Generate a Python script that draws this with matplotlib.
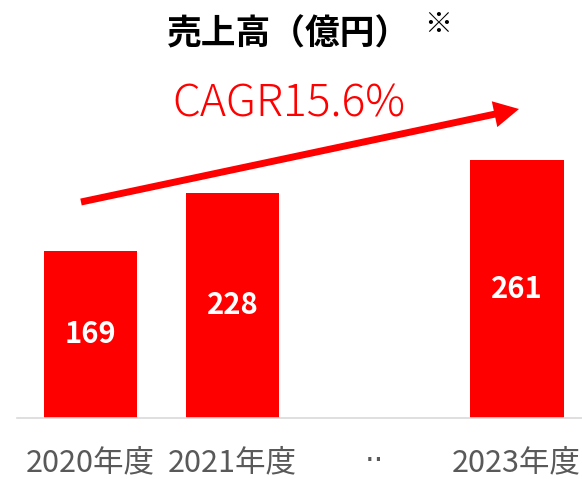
import matplotlib.pyplot as plt

plt.rcParams['font.family'] = ['Noto Sans CJK JP', 'DejaVu Sans']

categories = ["2020年度", "2021年度", "··", "2023年度"]
values = [169, 228, None, 261]
title = "売上高（億円）"
cagr_text = "CAGR15.6%"

fig = plt.figure(figsize=(5.82, 4.79), dpi=100)
ax = fig.add_axes([17 / 582, 1 - 418 / 479, 1 - 17 / 582, 296.5 / 479])

x = list(range(len(categories)))
for xi, v in zip(x, values):
    if v is None:
        continue
    ax.bar(xi, v, width=0.66, color="#FF0000")
    ax.text(xi, v / 2, str(v), ha="center", va="center", color="white",
            fontsize=21, fontweight="bold")

ax.set_xlim(-0.518, 3.46)
ax.set_ylim(0, 300)
ax.set_xticks(x)
ax.set_xticklabels(categories, fontsize=22, color="#595959")
ax.get_xticklabels()[2].set_family("DejaVu Sans")
ax.tick_params(axis="x", length=0, pad=21)
ax.set_yticks([])
for s in ["top", "right", "left"]:
    ax.spines[s].set_visible(False)
ax.spines["bottom"].set_color("#D9D9D9")
ax.spines["bottom"].set_linewidth(1.2)

# タイトル
fig.text(289 / 582, 1 - 34 / 479, title, ha="center", va="center",
         fontsize=25, fontweight="bold", color="black")
fig.text(438 / 582, 1 - 25 / 479, "※", ha="center", va="center",
         fontsize=20, color="black")

# CAGR矢印
ax.annotate("", xy=(519 / 582, 1 - 109 / 479), xytext=(81 / 582, 1 - 202 / 479),
            xycoords="figure fraction", textcoords="figure fraction",
            arrowprops=dict(facecolor="#FF0000", edgecolor="none", width=5,
                            headwidth=19, headlength=18, shrink=0))
fig.text(289 / 582, 1 - 104 / 479, cagr_text, ha="center", va="center",
         fontsize=32, fontweight="light", color="#FF0000")

fig.savefig("out.png", dpi=100)
